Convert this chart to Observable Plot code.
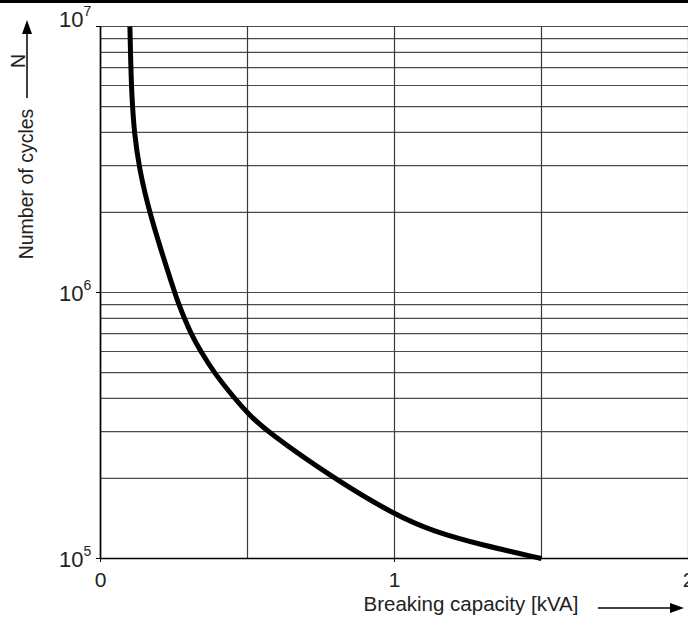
<!DOCTYPE html>
<html>
<head>
<meta charset="utf-8">
<script src="https://cdn.jsdelivr.net/npm/d3@7"></script>
<script src="https://cdn.jsdelivr.net/npm/@observablehq/plot@0.6"></script>
<style>
  html, body { margin: 0; padding: 0; background: #fff; overflow: hidden; }
  #bar { height: 3px; background: #000; width: 688px; }
  #chart svg { display: block; }
</style>
</head>
<body>
<div id="bar"></div>
<div id="chart"></div>
<script>
// Curve: breaking capacity [kVA] vs number of cycles N (ordered by increasing N)
const capacity = [1.5, 1.302, 1.133, 1.0, 0.793, 0.566, 0.5, 0.456, 0.386, 0.341, 0.308, 0.285, 0.267, 0.252, 0.165, 0.13, 0.115, 0.109, 0.105, 0.102, 0.1];
const cycles   = [1e5, 1.12e5, 1.262e5, 1.46e5, 2e5, 3e5, 3.52e5, 4e5, 5e5, 6e5, 7e5, 8e5, 9e5, 1e6, 2e6, 3e6, 4e6, 5e6, 6e6, 8e6, 1e7];

const xGrid = [0, 0.5, 1, 1.5, 2];
const yGrid = [1e5,2e5,3e5,4e5,5e5,6e5,7e5,8e5,9e5,1e6,2e6,3e6,4e6,5e6,6e6,7e6,8e6,9e6,1e7];
const xTickLabels = [0, 1, 2];
const yTickValues = [1e5, 1e6, 1e7];
const yTickExp = ["5", "6", "7"];

const curve = capacity.map((c, i) => ({x: c, y: cycles[i]}));
const yTicks = yTickValues.map((v, i) => ({y: v, exp: yTickExp[i]}));

const font = "'Liberation Sans', Arial, Helvetica, sans-serif";

const plot = Plot.plot({
  width: 688,
  height: 618,
  marginLeft: 100,
  marginRight: 0,
  marginTop: 23,
  marginBottom: 63,
  style: {fontFamily: font, background: "#fff", overflow: "hidden"},
  x: {domain: [0, 2], label: null},
  y: {type: "log", domain: [1e5, 1e7], label: null},
  marks: [
    Plot.ruleY(yGrid, {stroke: "#4a4a4a", strokeWidth: 1.2}),
    Plot.ruleX(xGrid, {stroke: "#3a3a3a", strokeWidth: 1.2}),
    Plot.ruleX([0], {stroke: "#000", strokeWidth: 1.6}),
    Plot.ruleY([1e5], {stroke: "#000", strokeWidth: 1.6}),
    Plot.axisX({ticks: xTickLabels, tickSize: 4, tickPadding: 10, fontSize: 21, tickFormat: d => String(d), label: null}),
    Plot.axisY({ticks: yTickValues, tickSize: 4, tickFormat: () => "", label: null}),
    Plot.line(curve, {x: "x", y: "y", curve: "basis", stroke: "#000", strokeWidth: 5, strokeLinecap: "butt"}),
    // y tick labels 10^n
    Plot.text(yTicks.filter(d => d.y < 1e7), {x: () => 0, y: "y", text: () => "10", textAnchor: "end", dx: -17, dy: 1, fontSize: 22, fill: "#222"}),
    Plot.text(yTicks.filter(d => d.y < 1e7), {x: () => 0, y: "y", text: "exp", textAnchor: "start", dx: -17, dy: -7, fontSize: 14, fill: "#222"}),
    Plot.text(yTicks.filter(d => d.y >= 1e7), {x: () => 0, y: "y", text: () => "10", textAnchor: "end", dx: -17, dy: -7, fontSize: 22, fill: "#222"}),
    Plot.text(yTicks.filter(d => d.y >= 1e7), {x: () => 0, y: "y", text: "exp", textAnchor: "start", dx: -17, dy: -15, fontSize: 14, fill: "#222"})
  ]
});

const svg = d3.select(plot);
svg.selectAll("text").attr("fill", "#222");

// x-axis title and arrow
svg.append("text")
  .attr("x", 471).attr("y", 603)
  .attr("text-anchor", "middle").attr("dominant-baseline", "middle")
  .attr("font-family", font).attr("font-size", 20.5).attr("fill", "#222")
  .text("Breaking capacity [kVA]");
svg.append("line").attr("x1", 598).attr("x2", 672).attr("y1", 605).attr("y2", 605)
  .attr("stroke", "#000").attr("stroke-width", 1.5);
svg.append("path").attr("d", "M684,605 L670,600 L670,610 Z").attr("fill", "#000");

// y-axis title and arrow
svg.append("text")
  .attr("transform", "translate(33,181) rotate(-90)")
  .attr("text-anchor", "middle")
  .attr("font-family", font).attr("font-size", 19.5).attr("fill", "#222")
  .text("Number of cycles");
svg.append("line").attr("x1", 27).attr("x2", 27).attr("y1", 95).attr("y2", 30)
  .attr("stroke", "#000").attr("stroke-width", 1.5);
svg.append("path").attr("d", "M27,17 L22,31 L32,31 Z").attr("fill", "#000");
svg.append("text")
  .attr("transform", "translate(25,58) rotate(-90)")
  .attr("text-anchor", "middle")
  .attr("font-family", font).attr("font-size", 19.5).attr("fill", "#222")
  .text("N");

document.getElementById("chart").appendChild(plot);
</script>
</body>
</html>
